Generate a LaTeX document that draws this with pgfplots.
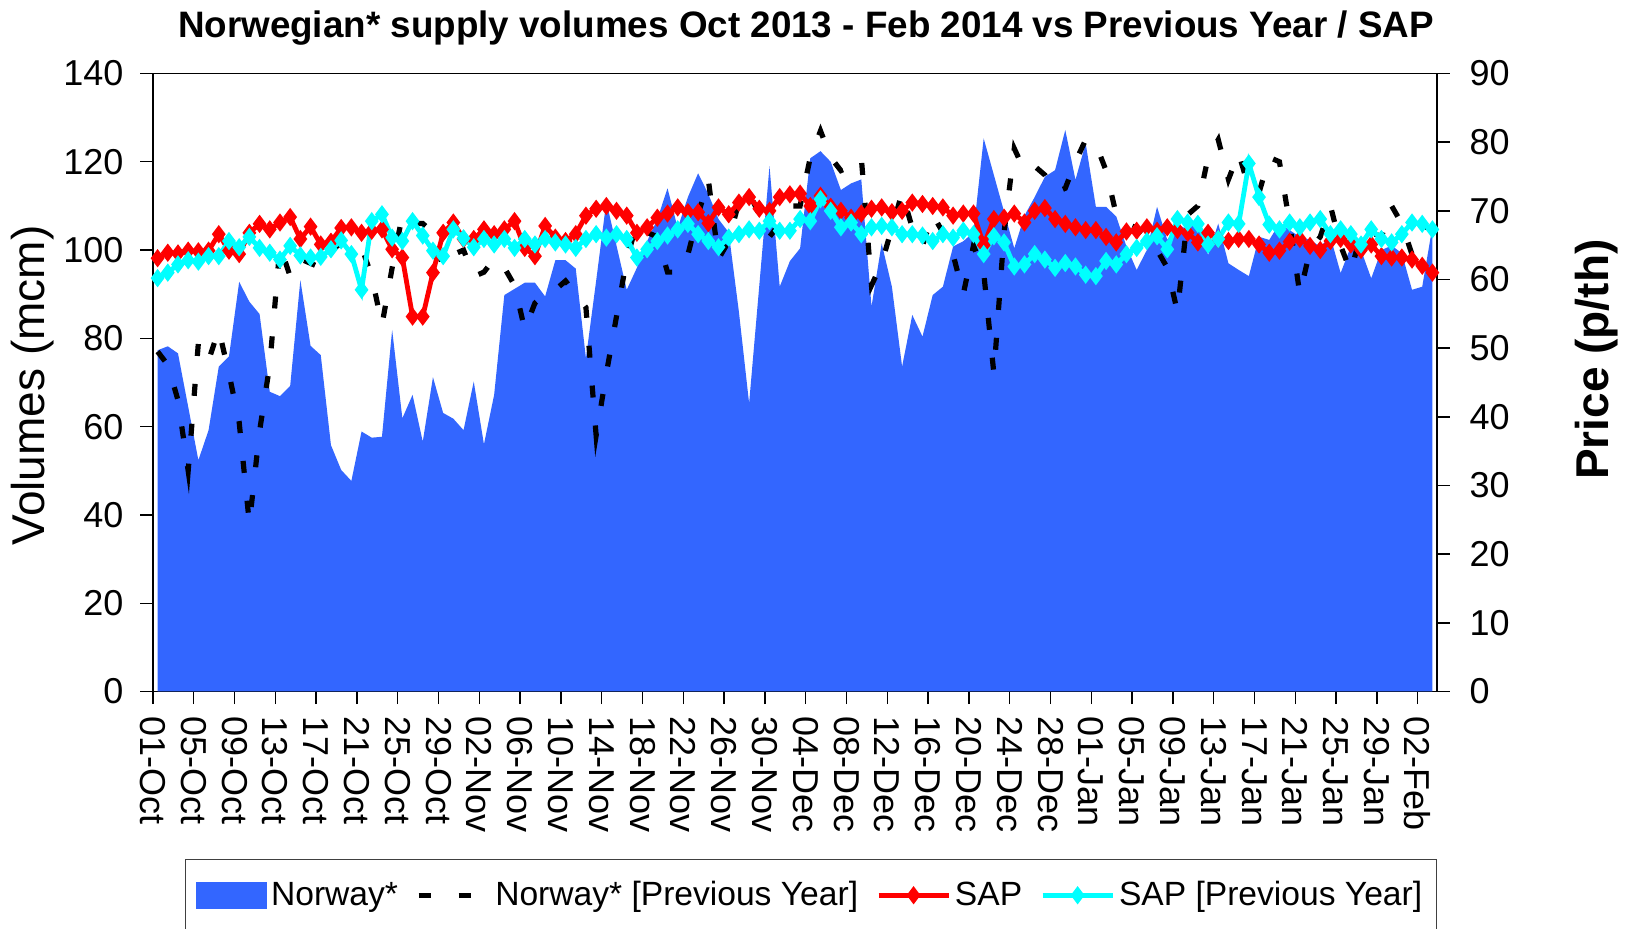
\documentclass[border=0pt]{standalone}
\usepackage{fontspec}
\setmainfont{Liberation Sans}
\usepackage{pgfplots}
\usepackage{pgfplotstable}
\pgfplotsset{compat=1.18}
\definecolor{areablue}{HTML}{3366FF}
\definecolor{sapred}{HTML}{FF0000}
\definecolor{sapcyan}{HTML}{00FFFF}

\pgfplotstableread{
d nor npy sap spy
0 77.3 77 63.1 60.2
1 78.2 74 63.9 61.0
2 76.6 66 63.8 62.2
3 64.5 50 64.2 62.8
4 52.4 79 64.1 62.6
5 59.2 75 64.2 63.4
6 73.6 82 66.6 63.4
7 75.9 72 64.2 65.6
8 92.8 61 63.7 64.7
9 88.3 38 66.8 66.2
10 85.5 59 68.1 64.6
11 67.9 74 67.3 63.9
12 66.9 101 68.3 62.9
13 69.2 94 69.1 64.9
14 93.2 98 65.9 63.5
15 78.3 97 67.7 63.2
16 76.2 96 65.1 63.3
17 55.8 100 65.5 64.4
18 50.2 101.5 67.5 65.7
19 47.7 101 67.6 63.7
20 58.9 100.7 66.8 58.5
21 57.5 94 67.1 68.5
22 57.7 83 67.3 69.5
23 81.9 96 64.4 66.1
24 61.9 108 63.2 65.6
25 67.2 106 54.6 68.5
26 56.6 106 54.6 66.4
27 71.2 104 61.0 64.2
28 63.1 96 66.8 63.4
29 61.8 99 68.3 67.3
30 59.2 100 65.9 66.0
31 70.2 94 65.9 64.7
32 56.0 95 67.3 65.9
33 67.2 98 66.6 65.1
34 89.8 96 67.3 65.9
35 91.2 92 68.5 64.6
36 92.6 82 64.6 65.9
37 92.6 88 63.4 65.1
38 89.5 90 67.8 65.9
39 97.7 91 66.1 65.4
40 97.7 93 65.6 65.1
41 95.8 90 66.6 64.6
42 75.5 87 69.3 65.9
43 93.0 58 70.3 66.6
44 111.0 72 70.7 66.1
45 101.0 85 70.0 66.6
46 91.0 98 69.3 65.9
47 96.0 106 66.8 63.2
48 102.0 104 67.6 64.4
49 107.0 103 69.0 65.6
50 114.0 95 69.6 66.4
51 105.0 95 70.5 67.3
52 112.0 99 69.8 68.1
53 117.4 108 69.8 66.6
54 112.7 116 68.2 65.6
55 107.0 98 70.5 64.7
56 104.0 102 69.5 66.1
57 86.0 111 71.2 66.6
58 65.3 113 72.0 67.3
59 92.0 108 70.3 67.1
60 119.0 103 70.0 68.5
61 91.7 106 72.0 67.1
62 97.5 110 72.4 67.1
63 100.4 110 72.5 68.8
64 120.8 121 70.7 68.5
65 122.4 127 72.2 71.7
66 120.0 121 70.6 70.0
67 113.6 118 70.0 67.6
68 115.1 119 69.0 68.3
69 116.0 121 69.6 66.6
70 87.2 92 70.3 67.6
71 101.5 97 70.5 67.8
72 91.7 105 69.8 67.6
73 73.6 113 70.0 66.6
74 85.3 105 71.2 66.6
75 80.4 101 71.0 66.4
76 89.8 108 70.7 65.6
77 91.7 104 70.5 66.6
78 100.8 99 69.3 66.1
79 102.0 90 69.6 67.1
80 104.0 101 69.6 66.6
81 125.3 95 65.0 63.7
82 117.0 72 68.8 66.3
83 108.7 104 69.0 65.4
84 100.4 123 69.6 61.9
85 107.8 118 68.3 62.2
86 112.0 119 70.0 63.7
87 116.6 117 70.4 62.9
88 118.1 113 68.8 61.7
89 127.2 114 68.1 62.4
90 115.9 120 67.6 61.9
91 124.2 125 67.2 60.7
92 109.8 124 67.2 60.5
93 109.8 118 66.2 62.7
94 107.6 108 65.4 62.2
95 100.8 106 67.0 63.7
96 95.5 105 67.1 64.6
97 100.0 103 67.6 65.6
98 109.8 100 67.1 66.3
99 102.3 96 67.6 64.4
100 106.0 86 67.2 68.8
101 104.5 108 66.8 68.3
102 106.8 110 65.4 68.1
103 98.9 121 66.8 65.1
104 106.0 125 65.9 65.9
105 97.0 116 65.6 68.3
106 95.5 122 65.9 68.1
107 94.1 114 65.9 76.9
108 103.0 113 65.1 72.0
109 102.3 121 63.9 68.0
110 106.0 120 64.2 67.3
111 104.5 106 65.5 68.3
112 103.0 90 65.9 67.6
113 102.3 100 64.9 68.3
114 100.8 103 64.3 68.8
115 103.0 110 65.6 66.6
116 94.8 101 65.9 67.3
117 100.8 95 65.1 66.6
118 100.0 104 64.3 65.1
119 93.6 104 65.1 67.3
120 100.0 103 63.4 65.9
121 101.0 110 63.2 65.4
122 99.3 106 63.2 66.6
123 91.0 99 62.9 68.3
124 91.7 106 62.0 68.1
125 105.3 104 61.0 67.3
}\datatable

\pgfplotsset{
  common/.style={
    at={(0,0)}, anchor=south west, scale only axis,
    width=642pt, height=309pt,
    xmin=0, xmax=125.9,
    tick align=outside,
    major tick length=6.3pt,
    tick style={black, line width=0.7pt},
    axis line style={line width=0.8pt, black},
    ticklabel style={font=\fontsize{18}{21}\selectfont},
    /pgf/number format/assume math mode=true,
  },
  lineleg/.style={legend image code/.code={
    \draw[mark repeat=2, mark phase=2, ##1] plot coordinates {(0pt,0pt) (17.5pt,0pt) (35pt,0pt)};}},
  dashleg/.style={legend image code/.code={
    \draw[##1] (0pt,0pt) -- (35pt,0pt);}},
  arealeg/.style={legend image code/.code={
    \fill[##1] (0pt,-6.5pt) rectangle (35pt,6.5pt);}},
}

\begin{document}
\begin{tikzpicture}
\begin{axis}[common,
  ymin=0, ymax=140,
  ytick={0,20,...,140},
  xtick={0,4,...,124},
  xticklabels={01-Oct,05-Oct,09-Oct,13-Oct,17-Oct,21-Oct,25-Oct,29-Oct,02-Nov,06-Nov,10-Nov,14-Nov,18-Nov,22-Nov,26-Nov,30-Nov,04-Dec,08-Dec,12-Dec,16-Dec,20-Dec,24-Dec,28-Dec,01-Jan,05-Jan,09-Jan,13-Jan,17-Jan,21-Jan,25-Jan,29-Jan,02-Feb},
  xtick pos=bottom, ytick pos=left,
  xticklabel style={yshift=-2.5pt, rotate=-90, anchor=west},
  yticklabel style={xshift=-5pt},
  ylabel={Volumes (mcm)},
  ylabel style={font=\fontsize{23}{27}\selectfont, at={(axis description cs:-0.0935,0.4955)}, anchor=center},
  title={Norwegian* supply volumes Oct 2013 - Feb 2014 vs Previous Year / SAP},
  title style={font=\fontsize{18.4}{22}\selectfont\bfseries, at={(axis description cs:0.5085,1)}, anchor=base, yshift=12pt},
]
\addplot[fill=areablue, draw=none] table[x expr=\thisrow{d}+0.45, y=nor]{\datatable} \closedcycle;
\addplot[black, line width=2.6pt, dash pattern=on 6pt off 14pt] table[x expr=\thisrow{d}+0.45, y=npy]{\datatable};
\end{axis}
\begin{axis}[common,
  ymin=0, ymax=90,
  ytick={0,10,...,90},
  axis x line=none, axis y line*=right,
  yticklabel style={xshift=6.5pt},
  ylabel={Price (p/th)},
  ylabel style={font=\fontsize{23}{27}\selectfont\bfseries, at={(axis description cs:1.1246,0.537)}, anchor=center},
  legend columns=4,
  legend style={at={(axis description cs:0.5125,-0.271)}, anchor=north, draw=darkgray, line width=0.6pt,
    font=\fontsize{16.8}{20}\selectfont, inner xsep=5pt, inner ysep=9pt,
    /tikz/every even column/.append style={column sep=7pt}},
]
\addlegendimage{areablue, arealeg}
\addlegendentry{Norway*}
\addlegendimage{black, line width=2.6pt, dash pattern=on 6pt off 14pt, dashleg}
\addlegendentry{Norway* [Previous Year]}
\addplot[sapred, line width=2.4pt, mark=diamond*, mark size=2.6pt, mark options={solid, fill=sapred}, lineleg] table[x expr=\thisrow{d}+0.45, y=sap]{\datatable};
\addlegendentry{SAP}
\addplot[sapcyan, line width=2.4pt, mark=diamond*, mark size=2.6pt, mark options={solid, fill=sapcyan}, lineleg] table[x expr=\thisrow{d}+0.45, y=spy]{\datatable};
\addlegendentry{SAP [Previous Year]}
\end{axis}
\pgfresetboundingbox
\useasboundingbox (-76.5pt,-118.75pt) rectangle (739pt,345.75pt);
\end{tikzpicture}
\end{document}
